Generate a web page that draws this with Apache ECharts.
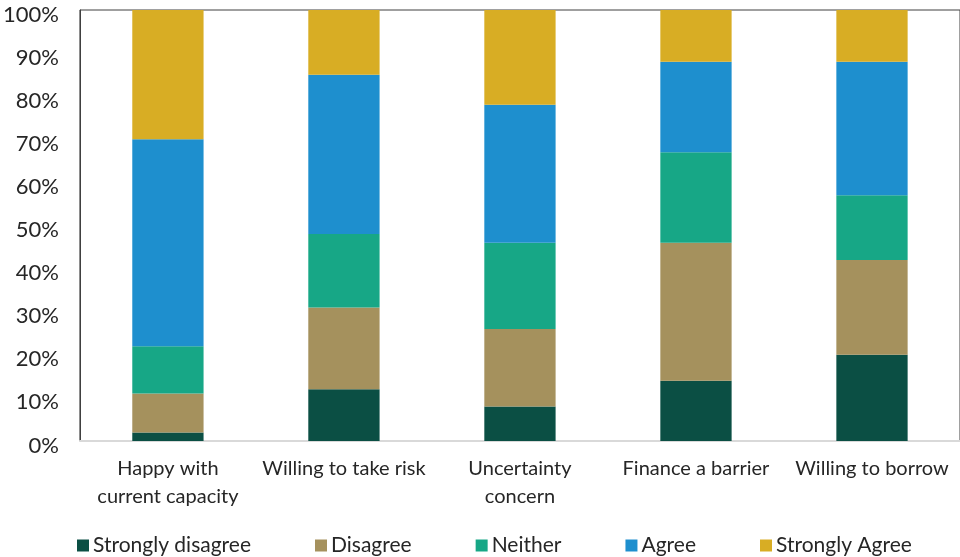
<!DOCTYPE html>
<html>
<head>
<meta charset="utf-8">
<script src="https://cdn.jsdelivr.net/npm/echarts@6/dist/echarts.min.js"></script>
<style>
  html, body { margin: 0; padding: 0; background: #ffffff; }
  #chart { width: 960px; height: 557px; }
</style>
</head>
<body>
<div id="chart"></div>
<script>
// Survey responses by statement (percent of respondents)
const categories = [
  'Happy with\ncurrent capacity',
  'Willing to take risk',
  'Uncertainty\nconcern',
  'Finance a barrier',
  'Willing to borrow'
];
const stronglyDisagree = [2, 12, 8, 14, 20];
const disagree         = [9, 19, 18, 32, 22];
const neither          = [11, 17, 20, 21, 15];
const agree            = [48, 37, 32, 21, 31];
const stronglyAgree    = [30, 15, 22, 12, 12];

const seriesNames  = ['Strongly disagree', 'Disagree', 'Neither', 'Agree', 'Strongly Agree'];
const seriesData   = [stronglyDisagree, disagree, neither, agree, stronglyAgree];
const seriesColors = ['#0B4F44', '#A5915D', '#17A786', '#1E8FCE', '#D8AD24'];

const FONT = 'Lato, "Open Sans", sans-serif';

const chart = echarts.init(document.getElementById('chart'));
chart.setOption({
  animation: false,
  textStyle: { fontFamily: FONT },
  grid: {
    left: 76, right: -4, top: 10, bottom: 116,
    show: true, borderColor: '#404040', borderWidth: 1
  },
  legend: {
    left: 77, top: 535, padding: 0,
    itemWidth: 12, itemHeight: 12, itemGap: 64,
    icon: 'rect',
    textStyle: { fontFamily: FONT, fontSize: 21, color: '#262626', padding: [0, 0, 0, -1] },
    data: seriesNames
  },
  xAxis: {
    type: 'category',
    data: categories,
    axisLine: { lineStyle: { color: '#D9D9D9', width: 2 } },
    axisTick: { show: false },
    axisLabel: {
      interval: 0, margin: 14, lineHeight: 28,
      fontFamily: FONT, fontSize: 20, color: '#262626'
    }
  },
  yAxis: {
    type: 'value',
    min: 0, max: 100, interval: 10,
    splitLine: { show: false },
    axisLine: { show: true, lineStyle: { color: '#404040', width: 1 } },
    axisTick: { show: false },
    axisLabel: {
      formatter: '{value}%', margin: 21,
      verticalAlign: 'top', lineHeight: 9,
      fontFamily: FONT, fontSize: 22, color: '#262626'
    }
  },
  series: seriesNames.map((name, i) => ({
    name: name,
    type: 'bar',
    stack: 'total',
    barWidth: '40.5%',
    itemStyle: { color: seriesColors[i] },
    data: seriesData[i]
  }))
});
</script>
</body>
</html>
